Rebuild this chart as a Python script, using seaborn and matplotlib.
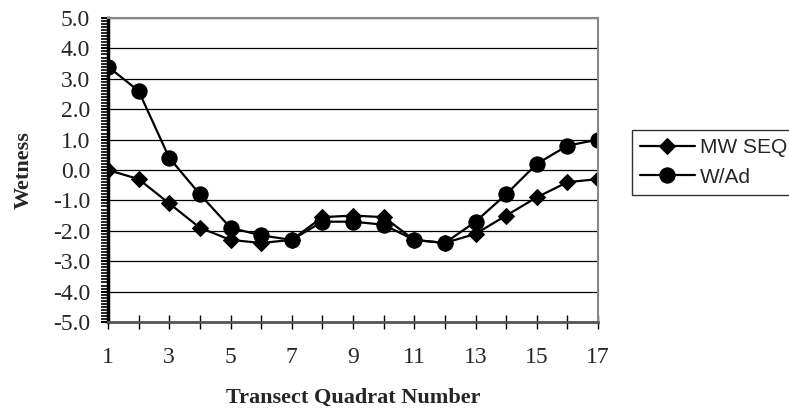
import pandas as pd
import matplotlib
matplotlib.use("Agg")
import matplotlib.pyplot as plt
import seaborn as sns
from matplotlib.ticker import MultipleLocator

# data
quadrat = list(range(1, 18))
mw_seq = [0.0, -0.3, -1.1, -1.9, -2.3, -2.4, -2.3, -1.55, -1.5, -1.55, -2.3, -2.4, -2.1, -1.5, -0.9, -0.4, -0.3]
w_ad = [3.4, 2.6, 0.4, -0.8, -1.9, -2.15, -2.3, -1.7, -1.7, -1.8, -2.3, -2.4, -1.7, -0.8, 0.2, 0.8, 1.0]
series_names = ["MW SEQ", "W/Ad"]
y_ticks = [-5, -4, -3, -2, -1, 0, 1, 2, 3, 4, 5]

df = pd.DataFrame({
    "Quadrat": quadrat * 2,
    "Wetness": mw_seq + w_ad,
    "Series": [series_names[0]] * len(quadrat) + [series_names[1]] * len(quadrat),
})

sns.set_style("white")
plt.rcParams['font.family'] = ['Liberation Serif', 'DejaVu Serif']

fig = plt.figure(figsize=(7.89, 4.11), dpi=100)
ax = fig.add_axes([108/789, 89/411, 490/789, 304/411])

sns.lineplot(data=df, x="Quadrat", y="Wetness", hue="Series", style="Series",
             palette=["black", "black"], markers={"MW SEQ": "D", "W/Ad": "o"},
             dashes=False, linewidth=1.6, markeredgecolor="black",
             ax=ax, legend=False)
# marker sizes
for line, ms in zip(ax.lines, [8.5, 11]):
    line.set_markersize(ms)

ax.set_xlim(1, 17)
ax.set_ylim(-5, 5)
ax.set_yticks(y_ticks)
ax.set_yticklabels([f"{v:.1f}" for v in y_ticks])
ax.yaxis.set_minor_locator(MultipleLocator(0.1))
ax.set_xticks(quadrat)
ax.set_xticklabels([str(q) if q % 2 == 1 else "" for q in quadrat])

ax.grid(axis="y", color="black", linewidth=0.9)
ax.grid(axis="x", visible=False)
ax.set_axisbelow(True)

for s in ["top", "right"]:
    ax.spines[s].set_color("#888888")
    ax.spines[s].set_linewidth(1.5)
ax.spines["bottom"].set_color("#555555")
ax.spines["bottom"].set_linewidth(2)
ax.spines["left"].set_color("black")
ax.spines["left"].set_linewidth(2.5)

ax.tick_params(axis="y", which="major", direction="out", length=5, width=1.5,
               color="black", labelsize=17, pad=8, left=True)
ax.tick_params(axis="y", which="minor", direction="out", length=5, width=1.2,
               color="black", left=True)
ax.tick_params(axis="x", which="major", direction="inout", length=10, width=1,
               color="black", labelsize=17, pad=13, bottom=True)

ax.set_xlabel("Transect Quadrat Number", fontsize=16, fontweight="bold", labelpad=14)
ax.set_ylabel("Wetness", fontsize=16, fontweight="bold", labelpad=14)

handles = ax.lines[:2]
leg = fig.legend(handles, series_names, loc="upper left",
                 bbox_to_anchor=(632/789, 1 - 130/411), frameon=True,
                 fancybox=False, handlelength=2.6, handletextpad=0.25,
                 labelspacing=0.5, borderpad=0.4, borderaxespad=0,
                 prop={"family": "Liberation Sans", "size": 15})
leg.get_frame().set_edgecolor("black")
leg.get_frame().set_linewidth(1)

fig.savefig("out.png", dpi=100)
